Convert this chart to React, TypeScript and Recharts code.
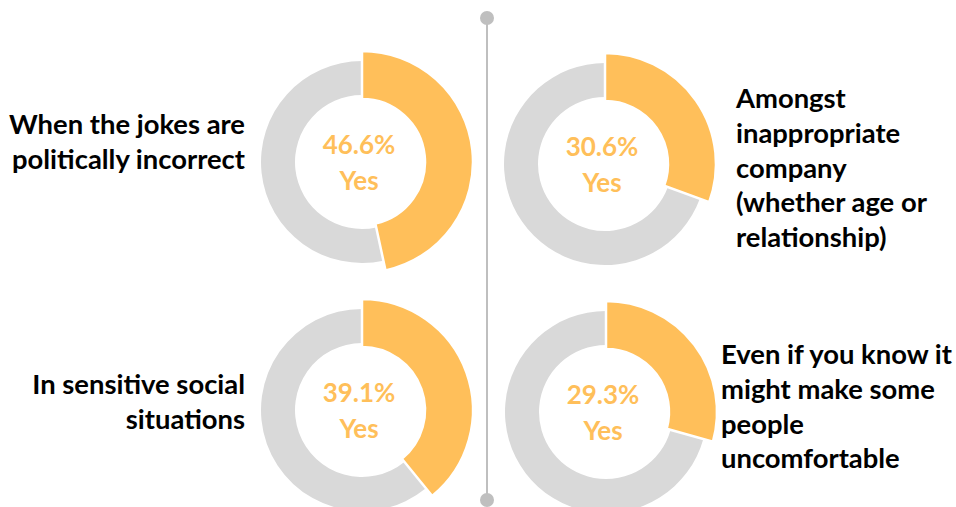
import { Cell, Pie, PieChart } from 'recharts';

const questions = [
  'When the jokes are politically incorrect',
  'Amongst inappropriate company (whether age or relationship)',
  'In sensitive social situations',
  'Even if you know it might make some people uncomfortable',
];
const yesShare = [46.6, 30.6, 39.1, 29.3];
const labelLines = [
  ['When the jokes are', 'politically incorrect'],
  ['Amongst', 'inappropriate', 'company', '(whether age or', 'relationship)'],
  ['In sensitive social', 'situations'],
  ['Even if you know it', 'might make some', 'people', 'uncomfortable'],
];

const ORANGE = '#FFBF5A';
const GREY = '#D9D9D9';
const FONT = 'Lato, "Open Sans", sans-serif';

// donut centres and label anchors, in page pixels
const centres = [
  { cx: 357, cy: 157 },
  { cx: 600, cy: 159 },
  { cx: 357, cy: 405 },
  { cx: 601, cy: 407 },
];
const labelPos = [
  { x: 245, y: 134, anchor: 'end' },
  { x: 736, y: 108, anchor: 'start' },
  { x: 245, y: 394, anchor: 'end' },
  { x: 721, y: 364, anchor: 'start' },
];

export default function App() {
  return (
    <div style={{ position: 'absolute', left: 0, top: 0, width: 956, height: 507, background: '#fff' }}>
      <PieChart width={956} height={507}>
        {yesShare.map((pct, i) => {
          const data = [
            { name: 'Yes', value: pct },
            { name: 'No', value: 100 - pct },
          ];
          return [
            <Pie
              key={`g${i}`}
              data={data}
              dataKey="value"
              cx={centres[i].cx}
              cy={centres[i].cy}
              innerRadius={67}
              outerRadius={101}
              startAngle={90}
              endAngle={-270}
              stroke="none"
              isAnimationActive={false}
            >
              <Cell fill="transparent" />
              <Cell fill={GREY} />
            </Pie>,
            <Pie
              key={`o${i}`}
              data={data}
              dataKey="value"
              cx={centres[i].cx}
              cy={centres[i].cy}
              innerRadius={63}
              outerRadius={111}
              startAngle={90}
              endAngle={-270}
              isAnimationActive={false}
            >
              <Cell fill={ORANGE} stroke="#fff" strokeWidth={2.5} />
              <Cell fill="transparent" stroke="none" />
            </Pie>,
          ];
        })}
      </PieChart>
      <svg width={956} height={507} style={{ position: 'absolute', left: 0, top: 0, pointerEvents: 'none' }}>
        <line x1={487} y1={18} x2={487} y2={500} stroke="#BFBFBF" strokeWidth={2} />
        <circle cx={487} cy={18} r={7} fill="#BFBFBF" />
        <circle cx={487} cy={500} r={7} fill="#BFBFBF" />
        {yesShare.map((pct, i) => (
          <text
            key={`c${i}`}
            textAnchor="middle"
            fill={ORANGE}
            fontFamily={FONT}
            fontWeight={700}
            fontSize={26}
          >
            <tspan x={centres[i].cx + 2} y={centres[i].cy - 3}>{pct.toFixed(1)}%</tspan>
            <tspan x={centres[i].cx + 2} y={centres[i].cy + 33}>Yes</tspan>
          </text>
        ))}
        {labelLines.map((lines, i) => (
          <text
            key={questions[i]}
            textAnchor={labelPos[i].anchor as any}
            fontFamily={FONT}
            fontWeight={700}
            fontSize={27.4}
            fill="#000"
          >
            {lines.map((ln, j) => (
              <tspan key={j} x={labelPos[i].x} y={labelPos[i].y + j * 34.8}>
                {ln}
              </tspan>
            ))}
          </text>
        ))}
      </svg>
    </div>
  );
}
